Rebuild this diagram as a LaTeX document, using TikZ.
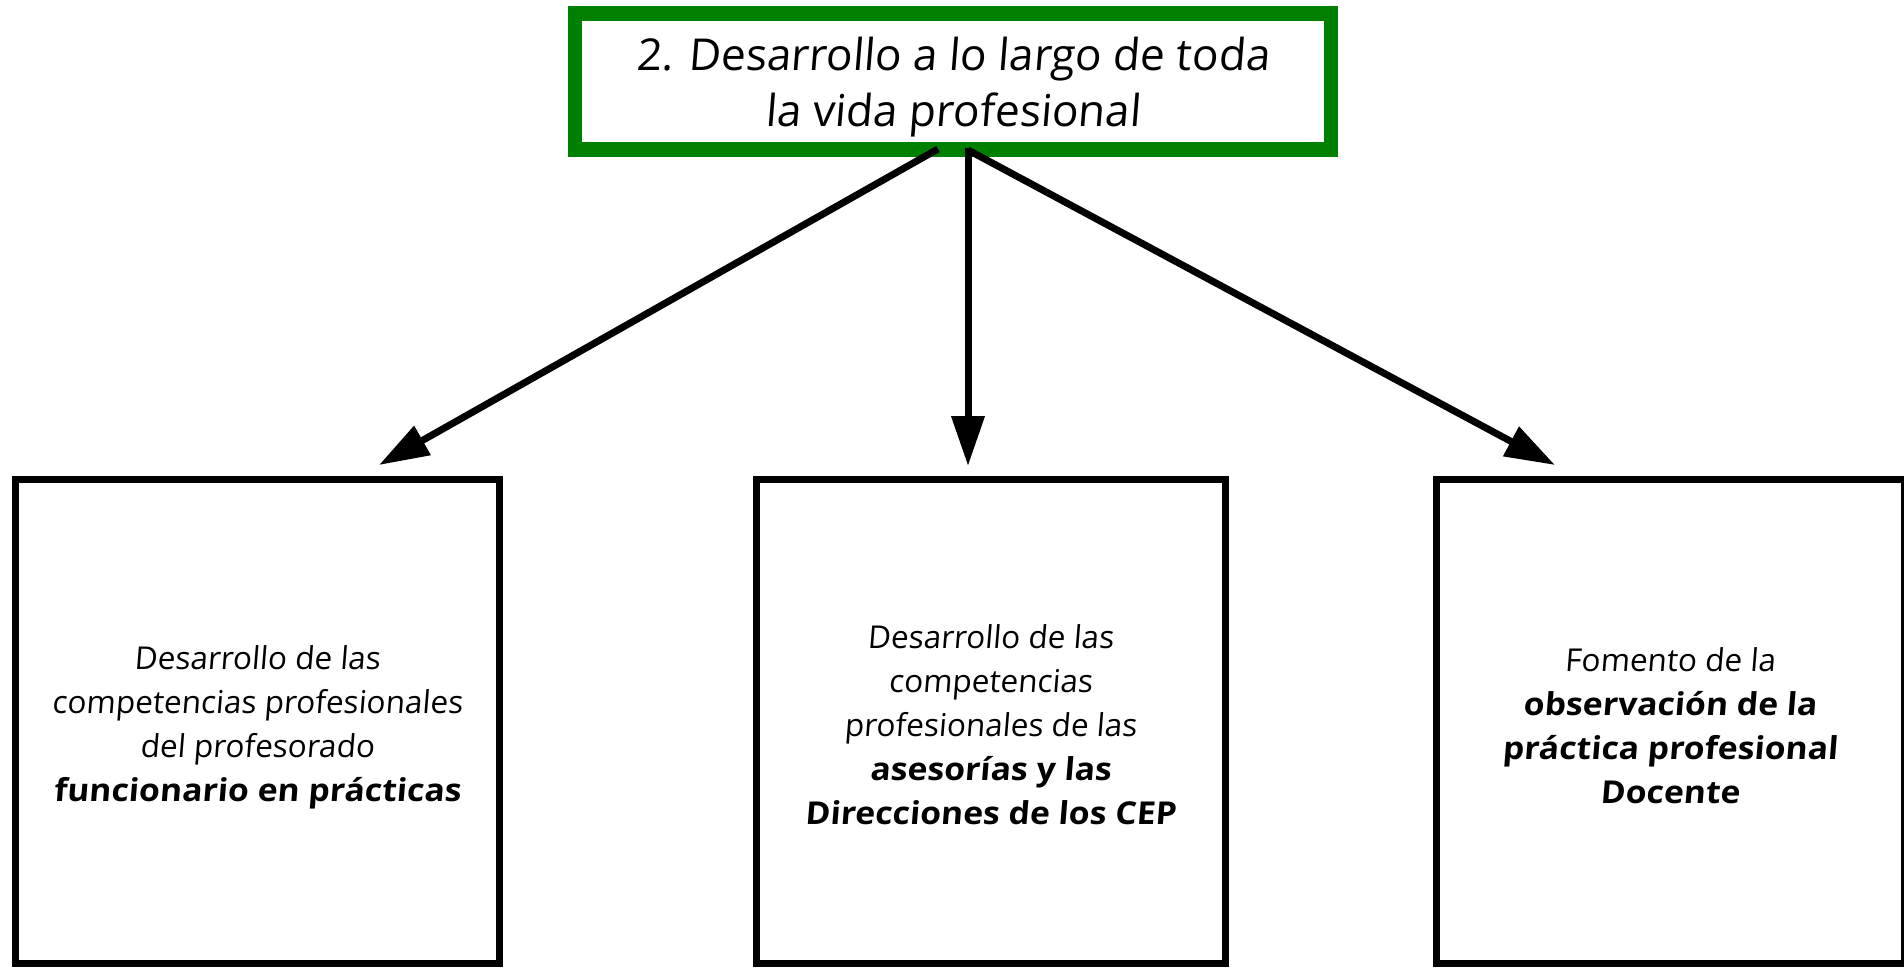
\documentclass[tikz,border=0pt]{standalone}
\usepackage{fontspec}
\setmainfont{Open Sans}[FakeSlant=0.08,BoldFeatures={FakeStretch=1.07,FakeSlant=0.08}]
\usetikzlibrary{arrows.meta}
\definecolor{frameGreen}{HTML}{008000}
\begin{document}
\begin{tikzpicture}[x=1pt,y=-1pt,
  topbox/.style={draw=frameGreen, line width=14.5pt, rectangle, inner sep=0pt, outer sep=0pt,
    minimum width=756pt, minimum height=136pt},
  toptext/.style={inner sep=0pt, align=center, font=\fontsize{44}{56}\selectfont},
  subbox/.style={draw=black, line width=7pt, rectangle, inner sep=0pt, outer sep=0pt,
    minimum height=484pt},
  subtext/.style={inner sep=0pt, align=center, font=\fontsize{31.5}{44}\selectfont},
  conn/.style={draw=black, line width=7pt, -{Triangle[length=50pt,width=32pt]}}
]
\useasboundingbox (0,0) rectangle (1904,967);
\clip (0,0) rectangle (1904,967);

\node[topbox] (top) at (953,81.5) {};
\node[toptext] (toplabel) at ([yshift=-6pt]top.center) {2. Desarrollo a lo largo de toda\\la vida profesional};

\node[subbox, minimum width=484.5pt] (b1) at (257.25,721.5) {};
\node[subtext] (b1label) at ([yshift=-6pt]b1.center)
  {Desarrollo de las\\competencias profesionales\\del profesorado\\\textbf{funcionario en prácticas}};
\node[subbox, minimum width=469pt] (b2) at (990.5,721.5) {};
\node[subtext] (b2label) at ([yshift=-3pt]b2.center)
  {Desarrollo de las\\competencias\\profesionales de las\\\textbf{asesorías y las}\\\textbf{Direcciones de los CEP}};
\node[subbox, minimum width=468pt] (b3) at (1670,721.5) {};
\node[subtext] (b3label) at ([yshift=-4pt]b3.center)
  {Fomento de la\\\textbf{observación de la}\\\textbf{práctica profesional}\\\textbf{Docente}};

\coordinate (sL) at (938,149);
\coordinate (sM) at (968,148);
\coordinate (sR) at (968,150);
\coordinate (tL) at (379,465);
\coordinate (tM) at (968,466);
\coordinate (tR) at (1555,465);

\draw[conn] (sL) -- (tL);
\draw[conn] (sM) -- (tM);
\draw[conn] (sR) -- (tR);
\end{tikzpicture}
\end{document}
